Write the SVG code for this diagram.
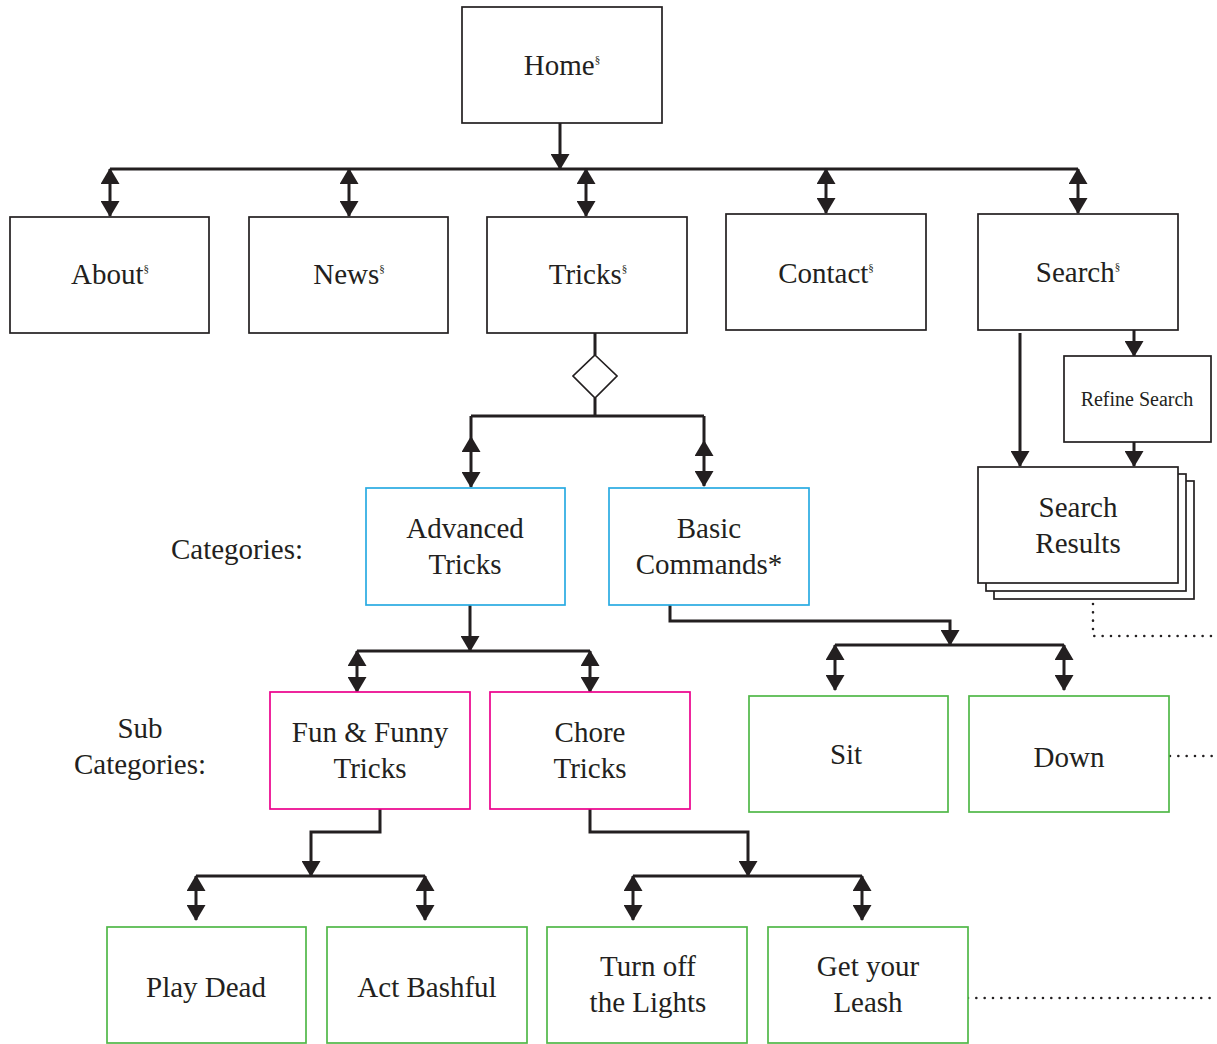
<svg xmlns="http://www.w3.org/2000/svg" width="1217" height="1044" viewBox="0 0 1217 1044">
<style>
.box{fill:#fff;stroke:#231f20;stroke-width:1.7}
.cat{fill:#fff;stroke:#29abe2;stroke-width:1.7}
.sub{fill:#fff;stroke:#ec008c;stroke-width:1.7}
.leaf{fill:#fff;stroke:#50b848;stroke-width:1.7}
.t{font-family:"Liberation Serif","Times New Roman",serif;font-size:29px;fill:#231f20;text-anchor:middle}
.sm{font-size:20px}
.sup{font-size:11px}
.c{fill:none;stroke:#231f20;stroke-width:3}
.a{marker-end:url(#ah)}
.d{marker-start:url(#ah);marker-end:url(#ah)}
.dot{fill:none;stroke:#231f20;stroke-width:2.6;stroke-linecap:round;stroke-dasharray:0 8.33}
</style>
<defs>
<marker id="ah" viewBox="0 0 16 19" refX="15" refY="9.5" markerWidth="16" markerHeight="19" markerUnits="userSpaceOnUse" orient="auto-start-reverse"><path d="M0,0 L16,9.5 L0,19 z" fill="#231f20"/></marker>
</defs>
<g id="connectors">
<path class="c a" d="M560,123 V169"/>
<path class="c" d="M110,169 H1078"/>
<path class="c d" d="M110,169 V216"/>
<path class="c d" d="M349,169 V216"/>
<path class="c d" d="M586,169 V216"/>
<path class="c d" d="M826,169 V213"/>
<path class="c d" d="M1078,169 V213"/>
<path class="c" d="M595,333 V355 M595,398 V416 M471,416 H704 M471,416 V437 M704,416 V441"/>
<polygon points="595,355 617,376 595,398 573,376" fill="#fff" stroke="#231f20" stroke-width="1.7"/>
<path class="c d" d="M471,437 V487"/>
<path class="c d" d="M704,441 V486"/>
<path class="c a" d="M470,605 V651"/>
<path class="c" d="M357,651 H590"/>
<path class="c d" d="M357,651 V692"/>
<path class="c d" d="M590,651 V692"/>
<path class="c a" d="M670,605 V621 H950 V645"/>
<path class="c" d="M835,645 H1064"/>
<path class="c d" d="M835,645 V690"/>
<path class="c d" d="M1064,645 V690"/>
<path class="c a" d="M380,809 V832 H311 V876"/>
<path class="c" d="M196,876 H425"/>
<path class="c d" d="M196,876 V920"/>
<path class="c d" d="M425,876 V920"/>
<path class="c a" d="M590,809 V832 H748 V876"/>
<path class="c" d="M633,876 H862"/>
<path class="c d" d="M633,876 V920"/>
<path class="c d" d="M862,876 V920"/>
<path class="c a" d="M1020,333 V466"/>
<path class="c a" d="M1134,330 V356"/>
<path class="c a" d="M1134,442 V466"/>
<path class="dot" d="M1093,604 V636 H1217"/>
<path class="dot" d="M1170,756 H1217"/>
<path class="dot" d="M968,998 H1217"/>
</g>
<g id="home"><rect class="box" x="462" y="7" width="200" height="116"/><text class="t" x="562" y="75">Home<tspan class="sup" dy="-12">§</tspan></text></g>
<g id="about"><rect class="box" x="10" y="217" width="199" height="116"/><text class="t" x="110" y="284">About<tspan class="sup" dy="-12">§</tspan></text></g>
<g id="news"><rect class="box" x="249" y="217" width="199" height="116"/><text class="t" x="349" y="284">News<tspan class="sup" dy="-12">§</tspan></text></g>
<g id="tricks"><rect class="box" x="487" y="217" width="200" height="116"/><text class="t" x="588" y="284">Tricks<tspan class="sup" dy="-12">§</tspan></text></g>
<g id="contact"><rect class="box" x="726" y="214" width="200" height="116"/><text class="t" x="826" y="283">Contact<tspan class="sup" dy="-12">§</tspan></text></g>
<g id="search"><rect class="box" x="978" y="214" width="200" height="116"/><text class="t" x="1078" y="282">Search<tspan class="sup" dy="-12">§</tspan></text></g>
<g id="refine"><rect class="box" x="1064" y="356" width="147" height="86"/><text class="t sm" x="1137" y="406">Refine Search</text></g>
<g id="results">
<rect class="box" x="994" y="481" width="200" height="118"/>
<rect class="box" x="986" y="474" width="200" height="117"/>
<rect class="box" x="978" y="467" width="200" height="116"/>
<text class="t" x="1078" y="517">Search</text><text class="t" x="1078" y="553">Results</text></g>
<g id="categories-label"><text class="t" x="237" y="559">Categories:</text></g>
<g id="subcategories-label"><text class="t" x="140" y="738">Sub</text><text class="t" x="140" y="774">Categories:</text></g>
<g id="advanced"><rect class="cat" x="366" y="488" width="199" height="117"/><text class="t" x="465" y="538">Advanced</text><text class="t" x="465" y="574">Tricks</text></g>
<g id="basic"><rect class="cat" x="609" y="488" width="200" height="117"/><text class="t" x="709" y="538">Basic</text><text class="t" x="709" y="574">Commands*</text></g>
<g id="fun"><rect class="sub" x="270" y="692" width="200" height="117"/><text class="t" x="370" y="742">Fun &amp; Funny</text><text class="t" x="370" y="778">Tricks</text></g>
<g id="chore"><rect class="sub" x="490" y="692" width="200" height="117"/><text class="t" x="590" y="742">Chore</text><text class="t" x="590" y="778">Tricks</text></g>
<g id="sit"><rect class="leaf" x="749" y="696" width="199" height="116"/><text class="t" x="846" y="764">Sit</text></g>
<g id="down"><rect class="leaf" x="969" y="696" width="200" height="116"/><text class="t" x="1069" y="767">Down</text></g>
<g id="playdead"><rect class="leaf" x="107" y="927" width="199" height="116"/><text class="t" x="206" y="997">Play Dead</text></g>
<g id="bashful"><rect class="leaf" x="327" y="927" width="200" height="116"/><text class="t" x="427" y="997">Act Bashful</text></g>
<g id="lights"><rect class="leaf" x="547" y="927" width="200" height="116"/><text class="t" x="648" y="976">Turn off</text><text class="t" x="648" y="1012">the Lights</text></g>
<g id="leash"><rect class="leaf" x="768" y="927" width="200" height="116"/><text class="t" x="868" y="976">Get your</text><text class="t" x="868" y="1012">Leash</text></g>
</svg>
